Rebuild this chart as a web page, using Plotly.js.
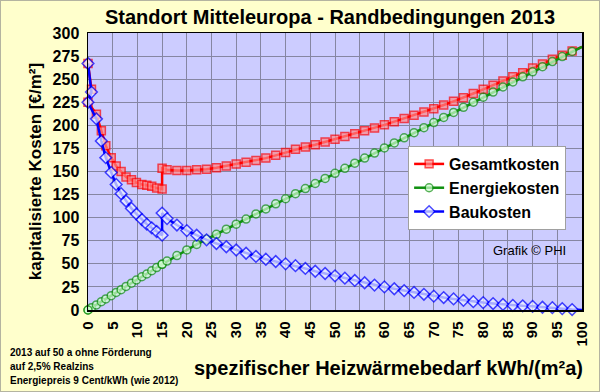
<!DOCTYPE html>
<html>
<head>
<meta charset="utf-8">
<script src="https://cdn.plot.ly/plotly-3.0.1.min.js"></script>
<style>
html,body{margin:0;padding:0;background:#ffffcc;}
#wrap{position:relative;width:600px;height:392px;}
#chart{width:600px;height:392px;}
#frame{position:absolute;left:0;top:0;width:598px;height:390px;border:1px solid #b4b4a0;pointer-events:none;}
</style>
</head>
<body>
<div id="wrap"><div id="chart"></div><div id="frame"></div></div>
<script>
// Heizwärmebedarf kWh/(m²a)
const heizwaermebedarf = [0, 0.7, 0, 1.7, 2.7, 3.6, 4.7, 5.7, 6.7, 7.7, 8.8, 9.8, 10.9, 11.9, 12.9, 13.9, 15,
  15, 16, 18, 20, 22, 24, 26, 28, 30, 32, 34, 36, 38, 40, 42, 44, 46, 48, 50, 52, 54, 56, 58, 60,
  62, 64, 66, 68, 70, 72, 74, 76, 78, 80, 82, 84, 86, 88, 90, 92, 94, 96, 98, 100];

const gesamtkosten = [267, 239, 225, 212, 194, 178, 165, 156, 150, 144, 141, 138, 136, 135, 134, 132, 131,
  153.5, 152, 151, 151, 152, 152.5, 154, 156, 158, 160, 162, 164.5, 167.5, 170.5, 174, 176.5, 179, 182, 185, 188, 191, 194, 197, 200.5,
  204, 207.5, 211, 214.5, 218, 222, 226, 230, 234.5, 239, 243.5, 248, 252.5, 257, 262, 266.5, 271.5, 276, 280.5, 285];

const energiekosten = [0, 2.5, 0, 5.5, 9, 12, 15.5, 19, 22, 25.5, 29, 32.5, 36, 39, 42.5, 46, 49.5,
  49.5, 53, 59, 65, 71, 76.5, 82, 87.5, 93, 98.5, 104, 109.5, 115, 120.5, 126, 131.5, 137, 142.5, 148, 153.5, 159, 164.5, 170, 175.5,
  181, 186.5, 192, 197.5, 203, 208.5, 214, 219.5, 225, 230.5, 236, 241.5, 247, 252.5, 258, 263.5, 269, 274.5, 280, 285];

const baukosten = [267, 236, 225, 207, 183, 165, 149, 136, 126, 118, 110, 104, 98, 93, 89, 85, 81,
  105, 99, 92, 86, 81, 76, 72, 68.5, 65, 61.5, 58, 55, 52.5, 50, 48, 45, 42, 39.5, 37, 34.5, 32, 29.5, 27, 25,
  23, 21, 19, 17, 15, 13.5, 12, 10.5, 9, 8, 7, 6, 5, 4.5, 4, 3, 2.5, 1.5, 0.5, 0];

const seriesNames = ['Gesamtkosten', 'Energiekosten', 'Baukosten'];
const titleText = 'Standort Mitteleuropa - Randbedingungen 2013';
const xTitle = 'spezifischer Heizwärmebedarf kWh/(m²a)';
const yTitle = 'kapitalisierte Kosten [€/m²]';
const notes = ['2013 auf 50 a ohne Förderung', 'auf 2,5% Realzins', 'Energiepreis 9 Cent/kWh (wie 2012)'];
const credit = 'Grafik © PHI';

const n = heizwaermebedarf.length;
function sizes(s){ return heizwaermebedarf.map((v,i)=> i===n-1 ? 0 : s); }

const traces = [
  {x: heizwaermebedarf, y: gesamtkosten, name: seriesNames[0], type:'scatter', mode:'lines+markers', legendgroup:'a',
   line:{color:'#ff0000', width:2.5}, cliponaxis:false,
   marker:{symbol:'square', size:sizes(8), color:'#ff8a8a', line:{color:'#ff0000', width:1.5}}},
  {x: heizwaermebedarf, y: energiekosten, name: seriesNames[1], type:'scatter', mode:'lines+markers', legendgroup:'b',
   line:{color:'#109010', width:2.5}, cliponaxis:false,
   marker:{symbol:'circle', size:sizes(8), color:'#d4ffd4', line:{color:'#109010', width:1.5}}},
  {x: heizwaermebedarf, y: baukosten, name: seriesNames[2], type:'scatter', mode:'lines+markers', legendgroup:'c',
   line:{color:'#0000ff', width:2.5}, cliponaxis:false,
   marker:{symbol:'diamond', size:sizes(9), color:'#eef4ff', line:{color:'#0000ff', width:1.5}}}
];

const fontFam = 'Liberation Sans, Arial, sans-serif';
const layout = {
  width:600, height:392,
  margin:{l:88, r:18, t:33, b:82},
  paper_bgcolor:'#ffffcc', plot_bgcolor:'#ccccff',
  font:{family:fontFam, color:'#000'},
  showlegend:true,
  title:{text:'<b>'+titleText+'</b>', font:{size:20, family:fontFam, color:'#000'}, x:0.55, xanchor:'center', y:0.957, yanchor:'middle'},
  xaxis:{range:[0,100], tick0:0, dtick:5, tickangle:-90, showgrid:true, gridcolor:'#8686a2', gridwidth:1,
    showline:true, linecolor:'#000', linewidth:1.5, mirror:true, ticks:'', zeroline:false,
    tickfont:{size:15, weight:'bold', family:fontFam, color:'#000'}, ticklabelstandoff:4},
  yaxis:{range:[0,300], tick0:0, dtick:25, showgrid:true, gridcolor:'#8686a2', gridwidth:1,
    showline:true, linecolor:'#000', linewidth:1.5, mirror:true, ticks:'', zeroline:false,
    tickfont:{size:16, weight:'bold', family:fontFam, color:'#000'}, ticklabelstandoff:4,
    title:{text:'<b>'+yTitle+'</b>', font:{size:17, family:fontFam, color:'#000'}, standoff:6}},
  legend:{x:0.648, y:0.592, xanchor:'left', yanchor:'top', bgcolor:'#ffffff', bordercolor:'#a0a0a0', borderwidth:1,
    font:{size:16, weight:'bold', family:fontFam, color:'#000'}, tracegroupgap:0, itemwidth:30, traceorder:'grouped'},
  annotations:[
    {text:'<b>'+xTitle+'</b>', xref:'paper', yref:'paper', x:(388-88)/494, y:-(368-310)/277, xanchor:'center', yanchor:'middle', showarrow:false, font:{size:20, family:fontFam, color:'#000'}},
    {text:'<b>'+notes[0]+'</b>', xref:'paper', yref:'paper', x:-(88-8)/494, y:-(352-310)/277, xanchor:'left', yanchor:'middle', showarrow:false, font:{size:10, family:fontFam, color:'#000'}},
    {text:'<b>'+notes[1]+'</b>', xref:'paper', yref:'paper', x:-(88-8)/494, y:-(366-310)/277, xanchor:'left', yanchor:'middle', showarrow:false, font:{size:10, family:fontFam, color:'#000'}},
    {text:'<b>'+notes[2]+'</b>', xref:'paper', yref:'paper', x:-(88-8)/494, y:-(380-310)/277, xanchor:'left', yanchor:'middle', showarrow:false, font:{size:10, family:fontFam, color:'#000'}},
    {text:credit, xref:'paper', yref:'paper', x:(568-88)/494, y:(310-250)/277, xanchor:'right', yanchor:'middle', showarrow:false, font:{size:13, family:fontFam, color:'#000'}}
  ]
};

Plotly.newPlot('chart', traces, layout, {displayModeBar:false, staticPlot:true});
</script>
</body>
</html>
